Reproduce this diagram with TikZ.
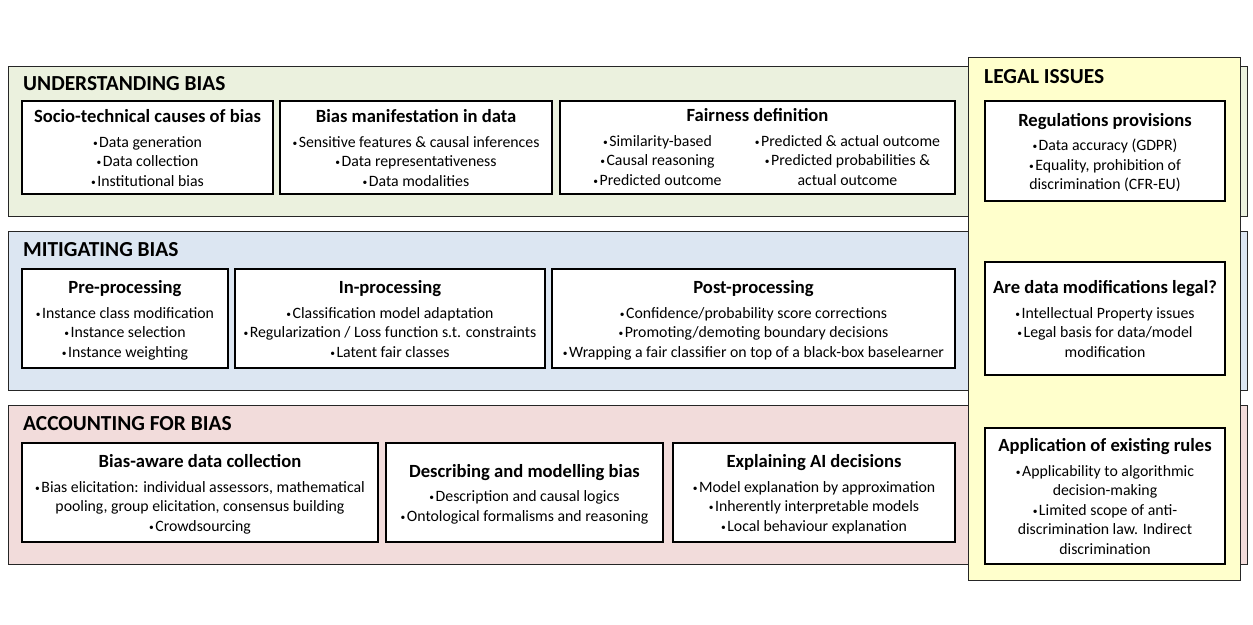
\documentclass[tikz,border=0pt]{standalone}
\usepackage{fontspec}
\setmainfont{Carlito}
\usetikzlibrary{positioning}
\definecolor{undfill}{HTML}{EBF1DE}
\definecolor{mitfill}{HTML}{DCE6F2}
\definecolor{accfill}{HTML}{F2DCDB}
\definecolor{legfill}{HTML}{FFFFCC}
\newcommand{\cardhead}[1]{{\fontsize{18.6}{22}\selectfont\bfseries\rule{0pt}{17.5pt}#1}\\[5pt]}
\newcommand{\bul}{{\fontsize{9.5}{9.5}\selectfont\raisebox{1pt}{•}}\kern1.5pt}
\tikzset{
  band/.style={rectangle, draw=black!85, line width=1.3pt, anchor=north west, inner sep=0pt},
  bandtitle/.style={anchor=west, inner sep=0pt, font=\fontsize{21.4}{25}\selectfont\bfseries},
  card/.style={rectangle, draw=black, line width=1.6pt, fill=white, align=center,
               inner sep=2pt, outer sep=0pt, text depth=4pt, font=\fontsize{15.8}{19.5}\selectfont},
  rowcard/.style={card, minimum height=99pt},
  legcard/.style={card, minimum width=240pt, anchor=north west}
}

\begin{document}
\begin{tikzpicture}[x=1pt, y=-1pt, node distance=7pt]
\useasboundingbox (0,0) rectangle (1253,624);
% bands
\node[band, fill=undfill, minimum width=1239pt, minimum height=150pt] (und) at (8,66) {};
\node[band, fill=mitfill, minimum width=1239pt, minimum height=159pt] (mit) at (8,231) {};
\node[band, fill=accfill, minimum width=1239pt, minimum height=159pt] (acc) at (8,405) {};
\node[band, fill=legfill, minimum width=272pt, minimum height=523pt] (leg) at (968,57) {};
\node[bandtitle] (undT) at (23,84) {UNDERSTANDING BIAS};
\node[bandtitle] (mitT) at (23,250) {MITIGATING BIAS};
\node[bandtitle] (accT) at (23,424) {ACCOUNTING FOR BIAS};
\node[bandtitle] (legT) at (984,77) {LEGAL ISSUES};

% understanding bias
\node[rowcard, minimum width=251pt, minimum height=93pt, anchor=north west] (causes) at (22,101)
  {\cardhead{Socio-technical causes of bias}\bul Data generation\\\bul Data collection\\\bul Institutional bias};
\node[rowcard, minimum width=272pt, minimum height=93pt, right=7pt of causes] (manif)
  {\cardhead{Bias manifestation in data}\bul Sensitive features \& causal inferences\\\bul Data representativeness\\\bul Data modalities};
\node[rowcard, minimum width=395pt, minimum height=93pt, text depth=, right=8pt of manif] (fair)
  {\cardhead{Fairness definition}%
   \parbox[t]{180pt}{\centering \bul Similarity-based\\\bul Causal reasoning\\\bul Predicted outcome\strut}%
   \parbox[t]{200pt}{\centering \bul Predicted \& actual outcome\\\bul Predicted probabilities \&\\actual outcome\strut}};

% mitigating bias
\node[rowcard, minimum width=206pt, anchor=north west] (pre) at (22,269)
  {\cardhead{Pre-processing}\bul Instance class modification\\\bul Instance selection\\\bul Instance weighting};
\node[rowcard, minimum width=310pt, right=7pt of pre] (inproc)
  {\cardhead{In-processing}\bul Classification model adaptation\\\bul Regularization / Loss function s.t. constraints\\\bul Latent fair classes};
\node[rowcard, minimum width=403pt, right=7pt of inproc] (post)
  {\cardhead{Post-processing}\bul Confidence/probability score corrections\\\bul Promoting/demoting boundary decisions\\\bul Wrapping a fair classifier on top of a black-box baselearner};

% accounting for bias
\node[rowcard, minimum width=356pt, anchor=north west] (collect) at (22,443)
  {\cardhead{Bias-aware data collection}\bul Bias elicitation: individual assessors, mathematical\\pooling, group elicitation, consensus building\\\bul Crowdsourcing};
\node[rowcard, minimum width=277pt, right=8pt of collect] (describe)
  {\cardhead{Describing and modelling bias}\bul Description and causal logics\\\bul Ontological formalisms and reasoning};
\node[rowcard, minimum width=282pt, right=10pt of describe] (explain)
  {\cardhead{Explaining AI decisions}\bul Model explanation by approximation\\\bul Inherently interpretable models\\\bul Local behaviour explanation};

% legal issues
\node[legcard, minimum height=100pt] (regul) at (985,101)
  {\cardhead{Regulations provisions}\bul Data accuracy (GDPR)\\\bul Equality, prohibition of\\discrimination (CFR-EU)};
\node[legcard, minimum height=113pt] (modif) at (985,262)
  {\cardhead{Are data modifications legal?}\bul Intellectual Property issues\\\bul Legal basis for data/model\\modification};
\node[legcard, minimum height=136pt] (rules) at (985,428)
  {\cardhead{Application of existing rules}\bul Applicability to algorithmic\\decision-making\\\bul Limited scope of anti-\\discrimination law. Indirect\\discrimination};
\end{tikzpicture}
\end{document}
